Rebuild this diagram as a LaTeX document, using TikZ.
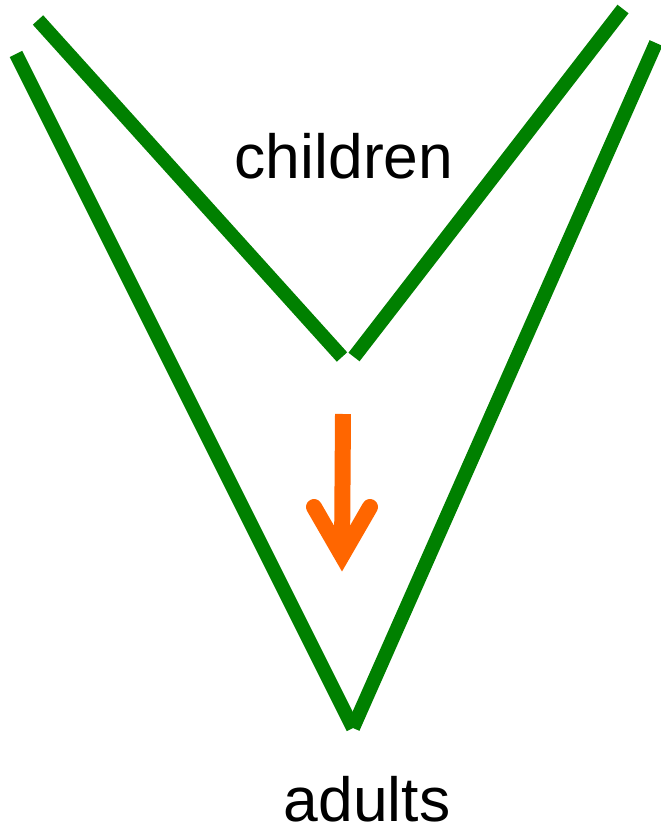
\documentclass[tikz,border=0pt]{standalone}
\usepackage{fontspec}
\setmainfont{Liberation Sans}
\usetikzlibrary{arrows.meta}

\definecolor{vgreen}{RGB}{0,128,0}
\definecolor{vorange}{RGB}{255,102,0}

\begin{document}
\begin{tikzpicture}[x=0.02cm, y=-0.02cm,
  vline/.style={draw=vgreen, line width=7.97pt, line cap=butt},
  shaft/.style={draw=vorange, line width=9.1pt, line cap=butt},
  barb/.style={draw=vorange, line width=9.1pt, line cap=round, line join=miter},
  lbl/.style={font=\fontsize{35.5}{40}\selectfont, inner sep=0pt,
              text depth=0pt, anchor=base},
]
\useasboundingbox (0,0) rectangle (661,831);

%% ---- Inner V (children), two strokes
\coordinate (inTL) at (38,20);
\coordinate (inBL) at (342,357);
\coordinate (inBR) at (354,357);
\coordinate (inTR) at (623,9);
\draw[vline] (inTL) -- (inBL);
\draw[vline] (inBR) -- (inTR);

%% ---- Outer V (adults), two strokes meeting at the bottom
\coordinate (outTL) at (16,54);
\coordinate (outB)  at (353,728);
\coordinate (outTR) at (656,43);
\draw[vline] (outTL) -- (outB);
\draw[vline] (outB) -- (outTR);

%% ---- Growth arrow
\coordinate (arrTop) at (343,414);
\coordinate (arrTip) at (342,555.5);
\coordinate (barbL)  at (314,507);
\coordinate (barbR)  at (370,507);
\draw[shaft] (arrTop) -- (arrTip);
\draw[barb] (barbL) -- (arrTip) -- (barbR);

%% ---- Labels
\node[lbl] (children) at (344,179) {children};
\node[lbl] (adults)   at (367,821) {adults};

\end{tikzpicture}
\end{document}
